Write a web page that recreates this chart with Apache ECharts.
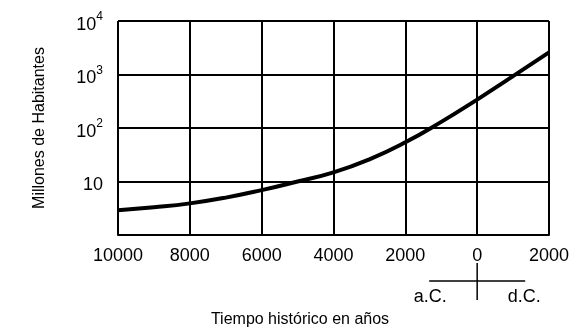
<!DOCTYPE html>
<html>
<head>
<meta charset="utf-8">
<script src="https://cdn.jsdelivr.net/npm/echarts@6/dist/echarts.min.js"></script>
<style>
html,body{margin:0;padding:0;background:#fff;}
#c{width:584px;height:333px;}
</style>
</head>
<body>
<div id="c"></div>
<script>
// Years (negative = a.C.)
var years = [-10000, -9000, -8000, -7000, -6000, -5000, -4000, -3000, -2000, -1000, 0, 1000, 2000];
// Population in millions
var population = [2.9, 3.3, 3.9, 5.0, 6.9, 10, 14.8, 26, 54, 130, 340, 930, 2600];
var xTicks = [-10000, -8000, -6000, -4000, -2000, 0, 2000];
var yTicks = [1, 10, 100, 1000, 10000];
var yTitle = 'Millones de Habitantes';
var xTitle = 'Tiempo histórico en años';
var eraLabels = ['a.C.', 'd.C.'];

var FONT = 'Liberation Sans, Arial, sans-serif';
var chart = echarts.init(document.getElementById('c'), null, {renderer: 'canvas'});

var seriesData = years.map(function (y, i) { return [y, population[i]]; });

var option = {
  animation: false,
  backgroundColor: '#fff',
  textStyle: {fontFamily: FONT},
  grid: {left: 118, right: 35, top: 21, bottom: 98, containLabel: false},
  xAxis: {
    type: 'value',
    min: xTicks[0],
    max: xTicks[xTicks.length - 1],
    interval: 2000,
    axisLine: {show: true, lineStyle: {color: '#000', width: 2}},
    axisTick: {show: false},
    axisLabel: {
      color: '#000', fontSize: 18, fontFamily: FONT, margin: 12,
      formatter: function (v) { return String(Math.abs(v)); }
    },
    splitLine: {show: true, lineStyle: {color: '#000', width: 2}}
  },
  yAxis: {
    type: 'log',
    logBase: 10,
    min: yTicks[0],
    max: yTicks[yTicks.length - 1],
    axisLine: {show: true, lineStyle: {color: '#000', width: 2}},
    axisTick: {show: false},
    axisLabel: {
      color: '#000', fontFamily: FONT, margin: 15,
      formatter: function (v) {
        var e = Math.round(Math.log(v) / Math.LN10);
        if (e === 0) return '';
        if (e === 1) return '{b|10}';
        return '{b|10}{s|' + e + '}';
      },
      rich: {
        b: {fontSize: 18, fontFamily: FONT, color: '#000', lineHeight: 26, verticalAlign: 'bottom'},
        s: {fontSize: 12, fontFamily: FONT, color: '#000', lineHeight: 12, verticalAlign: 'top', padding: [3, 0, 0, 0]}
      }
    },
    splitLine: {show: true, lineStyle: {color: '#000', width: 2}}
  },
  series: [{
    type: 'line',
    data: seriesData,
    smooth: 0.5,
    showSymbol: false,
    symbol: 'none',
    lineStyle: {color: '#000', width: 4},
    z: 5
  }]
};
chart.setOption(option);

function drawExtras() {
  var p0 = chart.convertToPixel({gridIndex: 0}, [0, 1]);
  var cx = p0[0];
  var baseY = p0[1];
  var half = 48;
  var lineY = baseY + 46;
  chart.setOption({
    graphic: [
      {type: 'line', shape: {x1: cx - half, y1: lineY, x2: cx + half, y2: lineY}, style: {stroke: '#000', lineWidth: 1.5}},
      {type: 'line', shape: {x1: cx, y1: baseY + 28, x2: cx, y2: baseY + 65}, style: {stroke: '#000', lineWidth: 1.5}},
      {type: 'text', x: cx - half + 1, y: baseY + 62, style: {text: eraLabels[0], fill: '#000', font: '18px ' + FONT, textAlign: 'center', textVerticalAlign: 'middle'}},
      {type: 'text', x: cx + half - 1, y: baseY + 62, style: {text: eraLabels[1], fill: '#000', font: '18px ' + FONT, textAlign: 'center', textVerticalAlign: 'middle'}},
      {type: 'text', x: 300, y: 320, style: {text: xTitle, fill: '#000', font: '16px ' + FONT, textAlign: 'center', textVerticalAlign: 'middle'}},
      {type: 'text', x: 40, y: 128, rotation: Math.PI / 2, style: {text: yTitle, fill: '#000', font: '16px ' + FONT, textAlign: 'center', textVerticalAlign: 'middle'}}
    ]
  });
}
drawExtras();
</script>
</body>
</html>
